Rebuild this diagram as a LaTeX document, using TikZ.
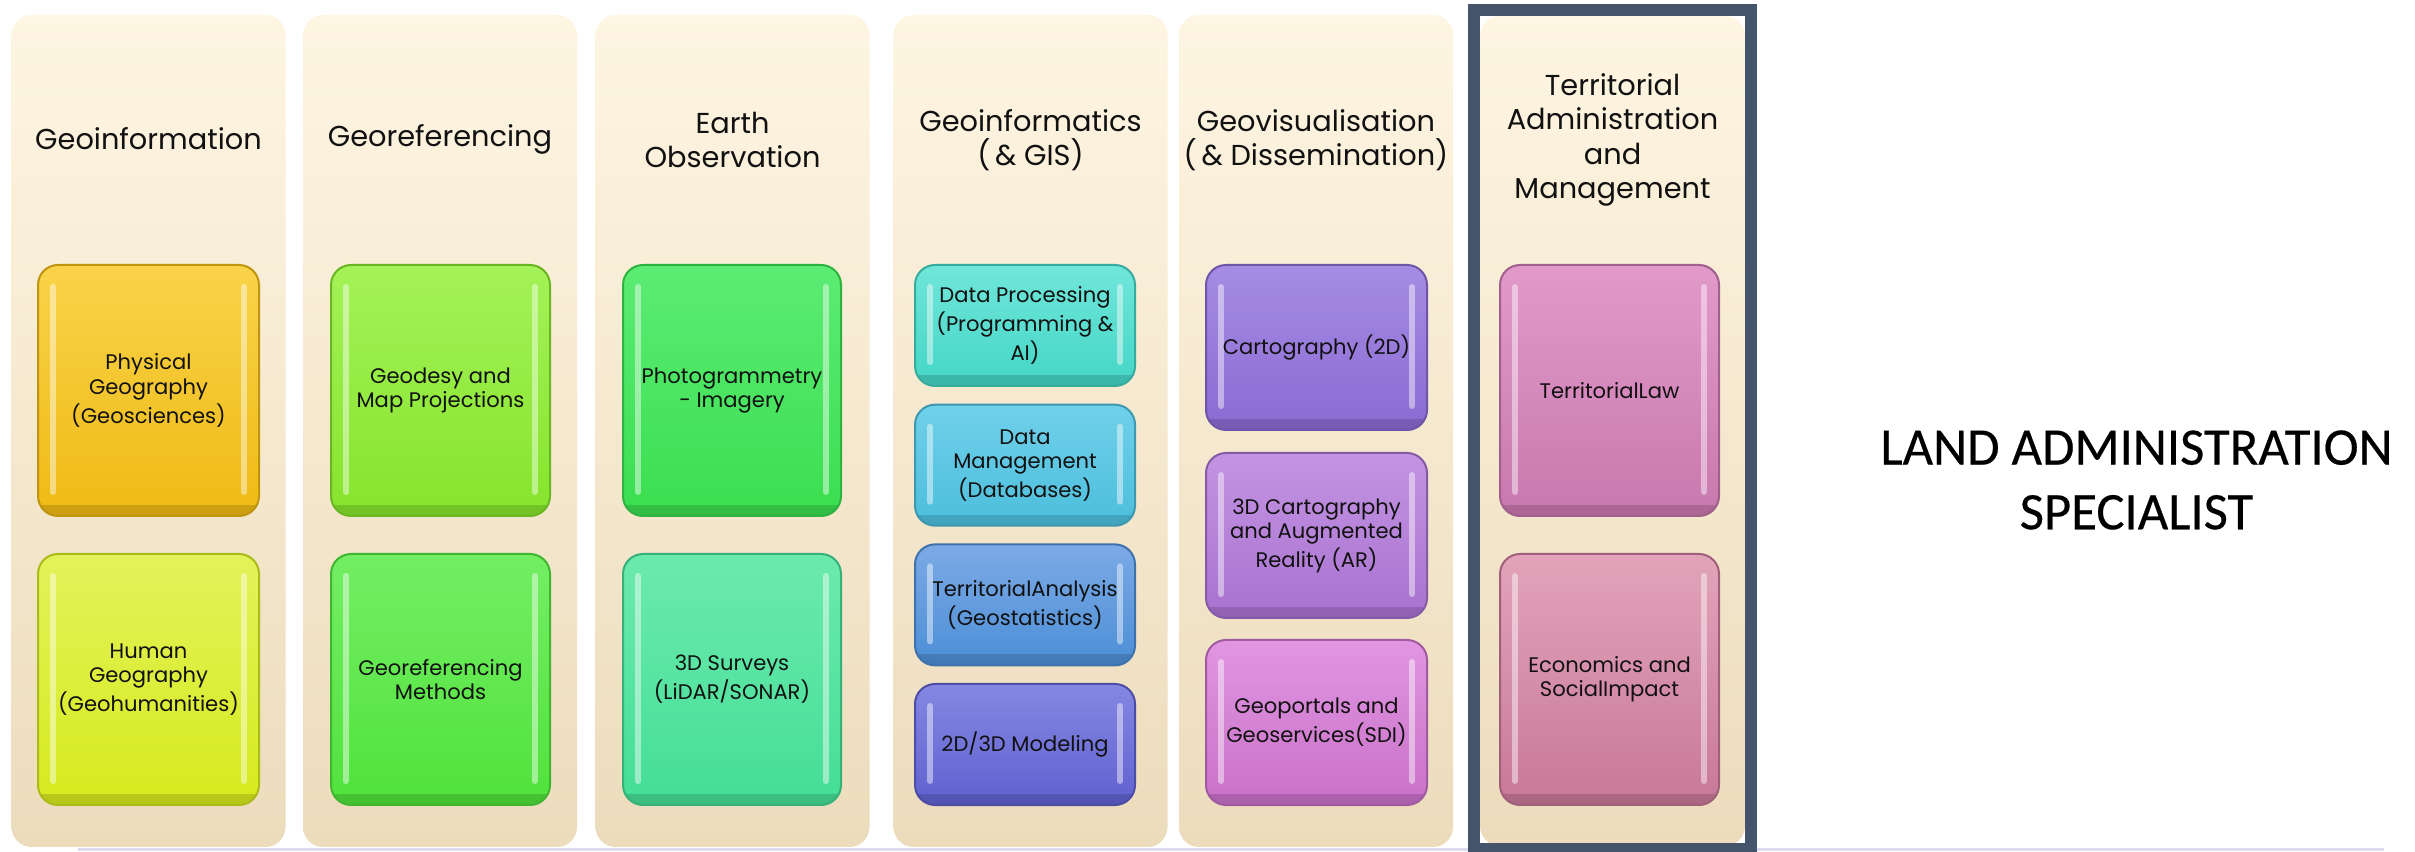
\documentclass[tikz,border=0pt]{standalone}
\usepackage{fontspec}
\setmainfont{Poppins}
\newfontfamily\calib{Carlito}[FakeBold=0.4]
\definecolor{creamT}{HTML}{FEF5E2}
\definecolor{creamB}{HTML}{ECDCBC}
\definecolor{frameblue}{HTML}{44546A}
\definecolor{lav}{HTML}{DCDCEE}
\definecolor{pgT}{HTML}{F9D34A}\definecolor{pgB}{HTML}{EFBA14}
\definecolor{hgT}{HTML}{E4F25A}\definecolor{hgB}{HTML}{D6EA1E}
\definecolor{gdT}{HTML}{A4F258}\definecolor{gdB}{HTML}{86E42C}
\definecolor{gmT}{HTML}{74EE64}\definecolor{gmB}{HTML}{50E23C}
\definecolor{phT}{HTML}{5CEC74}\definecolor{phB}{HTML}{3ADE50}
\definecolor{svT}{HTML}{6CEAAE}\definecolor{svB}{HTML}{44DE96}
\definecolor{dpT}{HTML}{70E6DA}\definecolor{dpB}{HTML}{44D6C6}
\definecolor{dmT}{HTML}{70D0EA}\definecolor{dmB}{HTML}{4CBEDC}
\definecolor{taT}{HTML}{7CAAE6}\definecolor{taB}{HTML}{4C8ED6}
\definecolor{moT}{HTML}{8488E2}\definecolor{moB}{HTML}{6060D0}
\definecolor{caT}{HTML}{A68CE4}\definecolor{caB}{HTML}{8A6AD2}
\definecolor{ctT}{HTML}{C494E2}\definecolor{ctB}{HTML}{A872D0}
\definecolor{gpT}{HTML}{E296E2}\definecolor{gpB}{HTML}{C870C8}
\definecolor{tlT}{HTML}{E29ACA}\definecolor{tlB}{HTML}{C878AE}
\definecolor{ecT}{HTML}{E2A4BA}\definecolor{ecB}{HTML}{C87898}
\definecolor{txt}{HTML}{111111}
\tikzset{
  col/.style={rounded corners=2mm, top color=creamT, bottom color=creamB, draw=none,
    minimum width=27.4mm, minimum height=83.2mm, inner sep=0},
  ttl/.style={align=center, font=\fontsize{8.2}{9.8}\selectfont, text=txt},
  sub/.style 2 args={rounded corners=2mm, top color=#1, bottom color=#2,
    draw=#2!80!black, line width=0.2mm, inner sep=0, align=center, text=txt,
    font=\fontsize{6}{6.9}\selectfont,
    path picture={
      \fill[black, opacity=0.14, sharp corners] ([yshift=1.1mm]path picture bounding box.south west) rectangle (path picture bounding box.south east);
      \draw[white, opacity=0.45, line width=0.6mm, line cap=round, sharp corners]
        ([xshift=1.5mm,yshift=-2.2mm]path picture bounding box.north west) -- ([xshift=1.5mm,yshift=2.4mm]path picture bounding box.south west);
      \draw[white, opacity=0.45, line width=0.6mm, line cap=round, sharp corners]
        ([xshift=-1.5mm,yshift=-2.2mm]path picture bounding box.north east) -- ([xshift=-1.5mm,yshift=2.4mm]path picture bounding box.south east);
    }},
  b2/.style={minimum height=25.1mm},
  b3/.style={minimum height=16.5mm},
  b4/.style={minimum height=12.1mm},
}
\begin{document}
\begin{tikzpicture}[x=0.1mm, y=-0.1mm]
\useasboundingbox[fill=white] (0,0) rectangle (2415,852);
% bottom line
\coordinate (l1) at (78,849.5);
\coordinate (l2) at (2384,849.5);
\draw[lav, line width=0.35mm] (l1) -- (l2);
% columns
\node[col] (c1) at (148.5,431) {};
\node[col] (c2) at (440,431) {};
\node[col] (c3) at (732.5,431) {};
\node[col] (c4) at (1030.5,431) {};
\node[col] (c5) at (1316,431) {};
\node[col, minimum width=26.5mm, minimum height=83.0mm] (c6) at (1612.5,431) {};
% frame
\node[draw=frameblue, line width=1.2mm, minimum width=27.7mm, minimum height=83.9mm, inner sep=0] (frame) at (1612.5,429.5) {};
% titles
\node[ttl] (t1) at (148.5,139) {Geoinformation};
\node[ttl] (t2) at (440,139) {Georeferencing};
\node[ttl] (t3) at (732.5,140) {Earth\\Observation};
\node[ttl] (t4) at (1030.5,140) {Geoinformatics\\(\,\&\ GIS)};
\node[ttl] (t5) at (1316,140) {Geovisualisation\\(\,\&\ Dissemination)};
\node[ttl] (t6) at (1612.5,140) {Territorial\\Administration\\and\\Management};
% column 1
\node[sub={pgT}{pgB}, b2, minimum width=22.1mm] (p1) at (148.5,390.5) {Physical\\Geography\\(Geosciences)};
\node[sub={hgT}{hgB}, b2, minimum width=22.1mm] (p2) at (148.5,679.5) {Human\\Geography\\(Geohumanities)};
% column 2
\node[sub={gdT}{gdB}, b2, minimum width=21.9mm] (r1) at (440.5,390.5) {Geodesy and\\Map Projections};
\node[sub={gmT}{gmB}, b2, minimum width=21.9mm] (r2) at (440.5,679.5) {Georeferencing\\Methods};
% column 3
\node[sub={phT}{phB}, b2, minimum width=21.8mm] (e1) at (732,390.5) {Photogrammetry\\- Imagery};
\node[sub={svT}{svB}, b2, minimum width=21.8mm] (e2) at (732,679.5) {3D Surveys\\(LiDAR/SONAR)};
% column 4
\node[sub={dpT}{dpB}, b4, minimum width=22mm] (g1) at (1025,325.5) {Data Processing\\(Programming \&\\AI)};
\node[sub={dmT}{dmB}, b4, minimum width=22mm] (g2) at (1025,465.2) {Data\\Management\\(Databases)};
\node[sub={taT}{taB}, b4, minimum width=22mm] (g3) at (1025,604.9) {TerritorialAnalysis\\(Geostatistics)};
\node[sub={moT}{moB}, b4, minimum width=22mm] (g4) at (1025,744.5) {2D/3D Modeling};
% column 5
\node[sub={caT}{caB}, b3, minimum width=22.1mm] (v1) at (1316.5,347.5) {Cartography (2D)};
\node[sub={ctT}{ctB}, b3, minimum width=22.1mm] (v2) at (1316.5,535.5) {3D Cartography\\and Augmented\\Reality (AR)};
\node[sub={gpT}{gpB}, b3, minimum width=22.1mm] (v3) at (1316.5,722.5) {Geoportals and\\Geoservices(SDI)};
% column 6
\node[sub={tlT}{tlB}, b2, minimum width=21.9mm] (a1) at (1609.5,390.5) {TerritorialLaw};
\node[sub={ecT}{ecB}, b2, minimum width=21.9mm] (a2) at (1609.5,679.5) {Economics and\\SocialImpact};
% right label
\node[align=center, text=black, font=\calib\fontsize{15}{18.4}\selectfont] (las) at (2136.5,480) {LAND ADMINISTRATION\\SPECIALIST};
\end{tikzpicture}
\end{document}
